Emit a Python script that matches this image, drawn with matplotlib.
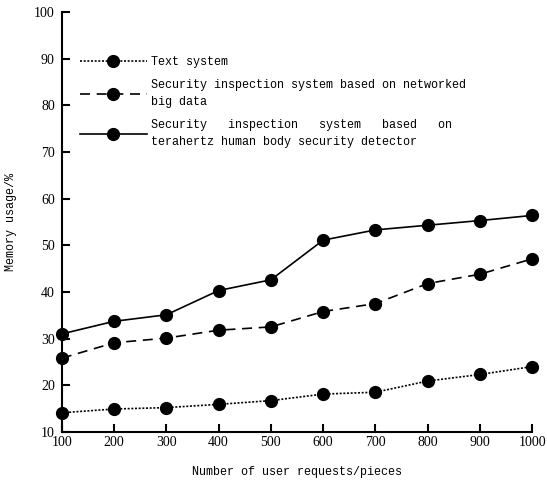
import numpy as np
import matplotlib.pyplot as plt

requests = [100, 200, 300, 400, 500, 600, 700, 800, 900, 1000]
text_system = [14.1, 14.9, 15.2, 15.9, 16.7, 18.1, 18.5, 20.9, 22.3, 24.0]
big_data = [25.8, 29.1, 30.1, 31.8, 32.5, 35.8, 37.5, 41.8, 43.8, 47.1]
terahertz = [31.0, 33.7, 35.1, 40.3, 42.6, 51.1, 53.3, 54.3, 55.3, 56.4]

labels = ["Text system",
          "Security inspection system based on networked\nbig data",
          "Security   inspection   system   based   on\nterahertz human body security detector"]

mono = ['Liberation Mono', 'DejaVu Sans Mono']
serif = ['Liberation Serif', 'DejaVu Serif']

fig = plt.figure(figsize=(5.47, 4.82), dpi=100)
ax = fig.add_axes([0.113, 0.104, 0.86, 0.871])

ax.plot(requests, text_system, color='black', ls=(0, (1.2, 1.0)), lw=1.2,
        marker='o', ms=8.5, label=labels[0])
ax.plot(requests, big_data, color='black', ls=(0, (6, 4)), lw=1.2,
        marker='o', ms=8.5, label=labels[1])
ax.plot(requests, terahertz, color='black', ls='-', lw=1.2,
        marker='o', ms=8.5, label=labels[2])

ax.set_xlim(100, 1000)
ax.set_ylim(10, 100)
ax.set_xticks(requests)
ax.set_yticks(np.arange(10, 101, 10))
ax.spines['top'].set_visible(False)
ax.spines['right'].set_visible(False)
ax.spines['left'].set_linewidth(1.5)
ax.spines['bottom'].set_linewidth(1.5)
ax.tick_params(direction='in', length=6, width=1.5, pad=3)
ax.tick_params(axis='y', pad=5)
for t in ax.get_xticklabels() + ax.get_yticklabels():
    t.set_family(serif)
    t.set_fontsize(10)
for ln in ax.get_lines():
    ln.set_clip_on(False)

ax.set_xlabel("Number of user requests/pieces", family=mono, fontsize=8.5, labelpad=12)
ax.set_ylabel("Memory usage/%", family=mono, fontsize=8.5, labelpad=12)

leg = ax.legend(loc='upper left', bbox_to_anchor=(0.017, 0.92), frameon=False,
                handlelength=5.6, handletextpad=0.4, labelspacing=0.9,
                prop={'family': mono, 'size': 8.5})
for t in leg.get_texts():
    t.set_linespacing(1.6)

fig.savefig("out.png", dpi=100)
